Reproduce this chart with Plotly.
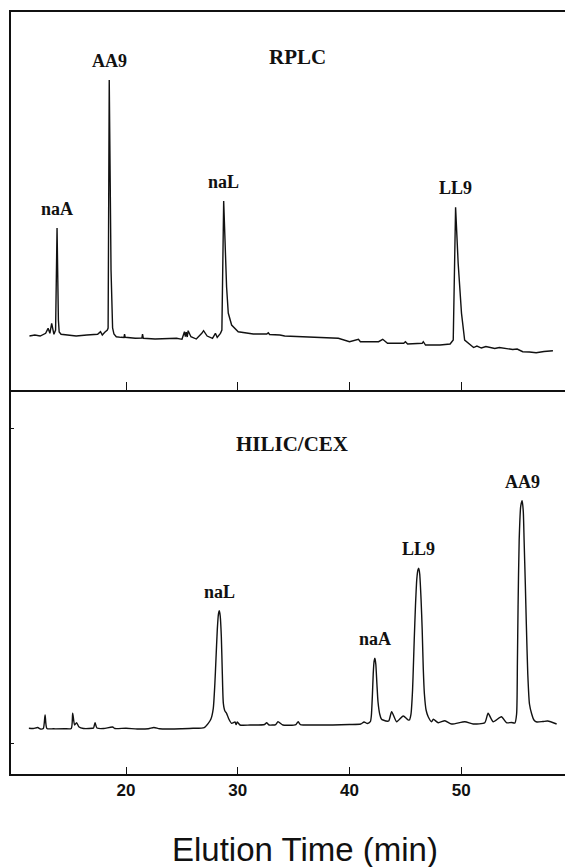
import plotly.graph_objects as go

# ---------------- data (elution time in min, detector response in arbitrary units) -------------
rplc_time = [11.36, 11.84, 12.32, 12.81, 13.03, 13.19, 13.35, 13.55, 13.70, 13.83, 13.95, 14.02,
             14.19, 14.73, 15.54, 16.50, 17.46, 17.72, 17.88, 18.10, 18.33, 18.40, 18.50, 18.66,
             18.80, 18.92, 19.13, 19.55, 19.82, 19.87, 19.93, 20.83, 21.42, 21.48, 21.55, 22.60,
             23.56, 24.53, 25.01, 25.23, 25.31, 25.39, 25.48, 25.56, 25.81, 26.29, 26.78, 26.94,
             27.26, 27.74, 28.00, 28.16, 28.45, 28.58, 28.74, 29.00, 29.15, 29.45, 30.04, 31.39,
             32.60, 32.73, 32.85, 33.77, 34.20, 36.10, 37.75, 39.00, 40.00, 40.80, 40.97, 42.60,
             42.97, 43.40, 44.85, 45.00, 45.20, 46.50, 46.60, 46.80, 48.10, 49.00, 49.28, 49.37,
             49.49, 49.72, 50.02, 50.30, 50.77, 51.10, 51.40, 51.80, 52.20, 52.56, 53.00, 53.40,
             54.05, 54.60, 55.00, 55.50, 56.10, 56.70, 57.40, 58.20]
rplc_signal = [54.0, 55.0, 54.0, 56.7, 61.7, 56.7, 66.7, 55.7, 60.0, 162.0, 70.0, 58.0,
               55.7, 55.0, 54.0, 55.0, 55.7, 58.3, 55.0, 57.7, 60.0, 62.0, 310.0, 120.0,
               62.0, 56.0, 53.3, 52.7, 52.5, 56.0, 52.7, 51.7, 52.0, 56.0, 51.7, 51.0,
               51.7, 51.7, 50.7, 58.3, 53.3, 58.0, 53.0, 59.3, 53.3, 51.0, 56.7, 59.3,
               54.0, 51.7, 56.7, 52.7, 56.7, 60.0, 189.0, 103.0, 77.0, 65.0, 58.3, 56.0,
               56.0, 57.3, 55.5, 55.0, 54.0, 53.3, 52.7, 51.7, 48.3, 50.7, 48.3, 48.3,
               50.7, 46.7, 46.7, 48.3, 46.0, 46.7, 48.3, 45.0, 45.0, 46.0, 50.0, 110.0,
               182.7, 126.7, 76.7, 50.0, 45.0, 42.5, 44.0, 42.0, 43.5, 42.3, 41.5, 42.5,
               41.7, 40.5, 41.0, 38.3, 38.0, 37.3, 38.5, 39.3]

hilic_time = [11.31, 11.70, 12.10, 12.35, 12.60, 12.76, 12.92, 13.50, 14.50, 15.10, 15.23, 15.40,
              15.58, 15.80, 16.20, 17.00, 17.10, 17.23, 17.40, 18.00, 18.80, 19.00, 20.00, 21.00,
              22.00, 22.50, 23.00, 24.00, 25.00, 26.00, 27.00, 27.36, 27.60, 27.81, 27.95, 28.05,
              28.17, 28.27, 28.35, 28.43, 28.53, 28.62, 28.71, 28.85, 29.00, 29.20, 29.45, 29.75,
              29.85, 29.96, 30.20, 31.09, 32.40, 32.58, 32.80, 33.40, 33.60, 34.04, 35.20, 35.40,
              35.60, 37.00, 38.50, 40.00, 41.00, 41.30, 41.60, 41.86, 41.95, 42.05, 42.12, 42.20,
              42.27, 42.35, 42.45, 42.55, 42.70, 42.85, 43.00, 43.50, 43.77, 44.22, 44.80, 45.20,
              45.35, 45.50, 45.64, 45.72, 45.79, 45.90, 46.02, 46.12, 46.20, 46.28, 46.40, 46.50,
              46.60, 46.70, 46.85, 47.04, 47.34, 47.50, 47.94, 48.53, 49.13, 50.32, 51.06, 52.10,
              52.40, 52.85, 53.59, 54.04, 54.50, 54.80, 54.95, 55.02, 55.08, 55.18, 55.32, 55.45,
              55.55, 55.62, 55.73, 55.82, 55.95, 56.10, 56.30, 56.50, 56.76, 57.30, 57.73, 58.53]
hilic_signal = [45.7, 45.5, 46.5, 45.0, 45.5, 59.0, 45.5, 45.2, 45.3, 45.5, 60.7, 49.0,
                51.3, 47.0, 45.5, 45.8, 46.0, 51.3, 46.0, 45.5, 47.0, 45.5, 45.8, 45.0,
                45.3, 46.5, 45.2, 45.0, 45.3, 45.7, 46.5, 50.7, 55.0, 65.7, 90.0, 115.0,
                144.7, 160.0, 163.3, 158.0, 137.3, 100.0, 70.7, 63.0, 60.7, 55.0, 50.7, 52.0,
                49.5, 52.0, 49.0, 49.0, 49.5, 51.3, 49.0, 49.5, 52.3, 49.0, 49.5, 52.3,
                49.5, 49.0, 49.0, 49.5, 50.0, 52.0, 50.5, 52.3, 58.0, 80.0, 100.0, 113.0,
                115.7, 110.0, 90.0, 72.0, 60.0, 55.0, 54.0, 53.0, 62.3, 52.3, 58.0, 54.5,
                54.0, 60.0, 84.0, 110.0, 134.0, 168.0, 195.0, 204.0, 205.7, 200.0, 175.0, 145.0,
                105.0, 80.0, 64.0, 57.3, 52.3, 54.7, 51.3, 53.3, 50.0, 52.3, 50.0, 51.3,
                60.7, 52.3, 57.3, 51.3, 51.5, 51.0, 60.0, 110.0, 167.0, 234.0, 268.0, 273.3,
                262.0, 234.0, 190.0, 150.0, 100.0, 70.0, 60.0, 54.0, 52.0, 52.5, 53.0, 50.0]

x_ticks = [20, 30, 40, 50]

rplc_labels = ["naA", "AA9", "naL", "LL9"]
rplc_label_time = [13.83, 18.50, 28.74, 49.49]
hilic_labels = ["naL", "naA", "LL9", "AA9"]
hilic_label_time = [28.35, 42.27, 46.20, 55.45]

panel_titles = ["RPLC", "HILIC/CEX"]
x_title = "Elution Time (min)"

# ---------------- figure ----------------
INK = "#111111"
SERIF = "Liberation Serif, Times New Roman, serif"
SANS = "Liberation Sans, Arial, sans-serif"
split = 0.5039

fig = go.Figure()
fig.add_trace(go.Scatter(x=rplc_time, y=rplc_signal, mode="lines",
                         line=dict(color=INK, width=1.4), xaxis="x", yaxis="y",
                         showlegend=False, hoverinfo="skip"))
fig.add_trace(go.Scatter(x=hilic_time, y=hilic_signal, mode="lines",
                         line=dict(color=INK, width=1.4, shape="spline", smoothing=0.6),
                         xaxis="x2", yaxis="y2", showlegend=False, hoverinfo="skip"))

annotations = []


def apex(times, signals, t):
    i = min(range(len(times)), key=lambda k: abs(times[k] - t))
    return times[i], signals[i]


for name, t in zip(rplc_labels, rplc_label_time):
    xt, ys = apex(rplc_time, rplc_signal, t)
    annotations.append(dict(x=xt, y=ys, xref="x", yref="y", text=name, showarrow=False,
                            yanchor="middle", xanchor="center", yshift=19,
                            font=dict(family=SERIF, size=18, color=INK, weight="bold")))
for name, t in zip(hilic_labels, hilic_label_time):
    xt, ys = apex(hilic_time, hilic_signal, t)
    annotations.append(dict(x=xt, y=ys, xref="x2", yref="y2", text=name, showarrow=False,
                            yanchor="middle", xanchor="center", yshift=19,
                            font=dict(family=SERIF, size=18, color=INK, weight="bold")))

annotations.append(dict(x=0.518, y=0.941, xref="paper", yref="paper", text=panel_titles[0],
                        showarrow=False, xanchor="center", yanchor="middle",
                        font=dict(family=SERIF, size=21, color=INK, weight="bold")))
annotations.append(dict(x=0.507, y=0.4337, xref="paper", yref="paper", text=panel_titles[1],
                        showarrow=False, xanchor="center", yanchor="middle",
                        font=dict(family=SERIF, size=21, color=INK, weight="bold")))
annotations.append(dict(x=0.5298, y=-0.0997, xref="paper", yref="paper", text=x_title,
                        showarrow=False, xanchor="center", yanchor="middle",
                        font=dict(family=SANS, size=33, color=INK)))

xrange = [9.71, 59.28]
fig.update_layout(
    width=565, height=867,
    margin=dict(l=11, r=0, t=12, b=93),
    paper_bgcolor="white", plot_bgcolor="white",
    annotations=annotations,
    xaxis=dict(domain=[0, 1], range=xrange, anchor="y", tickvals=x_ticks,
               showticklabels=False, ticks="inside", ticklen=8, tickwidth=1.3,
               tickcolor=INK, showline=True, linecolor=INK, linewidth=1.6,
               mirror=True, showgrid=False, zeroline=False),
    yaxis=dict(domain=[split, 1], range=[0, 378], anchor="x", showticklabels=False,
               ticks="", showline=True, linecolor=INK, linewidth=1.6,
               showgrid=False, zeroline=False),
    xaxis2=dict(domain=[0, 1], range=xrange, anchor="y2", tickvals=x_ticks,
                ticktext=[str(v) for v in x_ticks], ticks="inside", ticklen=7,
                tickwidth=1.3, tickcolor=INK, showline=True, linecolor=INK,
                linewidth=1.6, showgrid=False, zeroline=False,
                tickfont=dict(family=SANS, size=17, color=INK, weight="bold")),
    yaxis2=dict(domain=[0, split], range=[0, 384], anchor="x2", showticklabels=False,
                tickvals=[30, 346], ticks="inside", ticklen=3, tickwidth=1,
                tickcolor=INK, showline=True, linecolor=INK, linewidth=1.6,
                showgrid=False, zeroline=False),
)

fig.write_html("out.html")
